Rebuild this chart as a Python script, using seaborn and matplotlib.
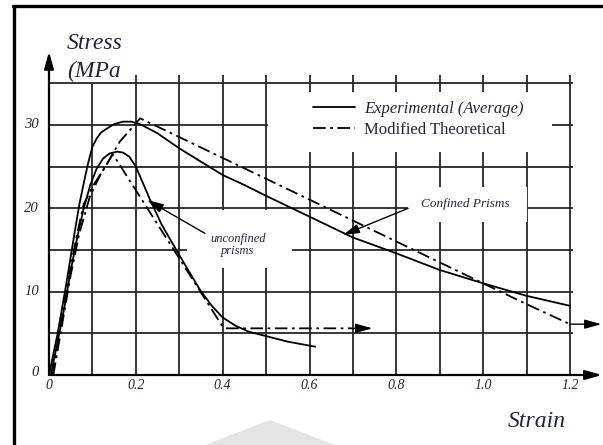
import numpy as np
import pandas as pd
import matplotlib
matplotlib.use('Agg')
import matplotlib.pyplot as plt
from matplotlib.lines import Line2D
from matplotlib.patches import Rectangle, Polygon
import seaborn as sns

# experimental (average) - confined prisms
conf_exp_strain = [0, 0.01, 0.02, 0.03, 0.04, 0.05, 0.06, 0.07, 0.08, 0.09, 0.10, 0.11, 0.12,
                   0.134, 0.15, 0.17, 0.19, 0.21, 0.25, 0.30, 0.35, 0.40, 0.45, 0.50, 0.60,
                   0.70, 0.80, 0.90, 1.00, 1.10, 1.20]
conf_exp_stress = [0, 2.5, 5, 8, 11, 14.2, 17.4, 20.5, 23.0, 25.4, 27.4, 28.4, 29.1,
                   29.6, 30.1, 30.4, 30.4, 30.1, 29.0, 27.2, 25.6, 24.0, 22.8, 21.5, 19.0,
                   16.5, 14.6, 12.6, 11.0, 9.5, 8.3]

# experimental (average) - unconfined prisms
unconf_exp_strain = [0.004, 0.02, 0.035, 0.05, 0.065, 0.08, 0.095, 0.11, 0.125, 0.14, 0.157,
                     0.17, 0.185, 0.20, 0.215, 0.233, 0.26, 0.30, 0.325, 0.348, 0.375, 0.40,
                     0.43, 0.46, 0.49, 0.55, 0.613]
unconf_exp_stress = [0, 4, 8, 12.5, 16.5, 20, 22.8, 24.8, 26.0, 26.6, 26.8,
                     26.7, 26.2, 25.0, 23.2, 21.0, 18.0, 14.4, 12.2, 10.2, 8.3, 6.9,
                     5.9, 5.2, 4.8, 4.0, 3.4]

# modified theoretical - confined prisms
conf_theo_strain = [0.008, 0.03, 0.05, 0.065, 0.08, 0.10, 0.13, 0.163, 0.21, 0.51, 1.00, 1.10, 1.20]
conf_theo_stress = [0, 7, 13, 17, 20.5, 22.6, 25.0, 28.0, 30.8, 23.3, 11.0, 8.5, 6.1]

# modified theoretical - unconfined prisms
unconf_theo_strain = [0.01, 0.03, 0.05, 0.07, 0.094, 0.12, 0.147, 0.30, 0.40, 0.41, 0.70]
unconf_theo_stress = [0, 6, 12, 17, 21.4, 24.2, 26.5, 14.0, 5.8, 5.6, 5.6]

# where the arrows on the theoretical tails end
theo_arrow_tip = {'unconf': 0.745, 'conf': 1.272}

x_ticks = [0, 0.2, 0.4, 0.6, 0.8, 1.0, 1.2]
x_tick_labels = ['0', '0.2', '0.4', '0.6', '0.8', '1.0', '1.2']
y_ticks = [0, 10, 20, 30]
y_tick_labels = ['0', '10', '20', '30']
strain_grid = [0.1, 0.2, 0.3, 0.4, 0.5, 0.6, 0.7, 0.8, 0.9, 1.0, 1.1, 1.2]
stress_grid = [5, 10, 15, 20, 25, 30, 35]

rows = []
for curve, kind, xs, ys in [
        ('conf_exp', 'Experimental (Average)', conf_exp_strain, conf_exp_stress),
        ('unconf_exp', 'Experimental (Average)', unconf_exp_strain, unconf_exp_stress),
        ('conf_theo', 'Modified Theoretical', conf_theo_strain, conf_theo_stress),
        ('unconf_theo', 'Modified Theoretical', unconf_theo_strain, unconf_theo_stress)]:
    for x, y in zip(xs, ys):
        rows.append({'strain': x, 'stress': y, 'curve': curve, 'kind': kind})
df = pd.DataFrame(rows)

sns.set_style('white')
plt.rcParams['font.family'] = ['Liberation Serif', 'DejaVu Serif']

W, H = 603, 445
fig = plt.figure(figsize=(W / 100, H / 100), dpi=100)
ax = fig.add_axes([0, 0, 1, 1])
# strain 0 -> px 49, 1.2 -> px 570 ; stress 0 -> px 375, 30 -> px 125
px_x = (570 - 49) / 1.2
px_y = (375 - 125) / 30
ax.set_xlim(-49 / px_x, (W - 49) / px_x)
ax.set_ylim(-(H - 375) / px_y, 375 / px_y)
ax.axis('off')

ink = '#222244'
dashdot = (7, 2.5, 1.5, 2.5)

# grid
for s in stress_grid:
    ax.hlines(s, 0, 1.207, color='#262626', lw=1.3, zorder=1)
for e in strain_grid:
    ax.vlines(e, 0, 35 if e == 0.1 else 36, color='#262626', lw=1.3, zorder=1)

# white areas behind legend and notes
for (x0, x1, y0, y1) in [(0.504, 1.158, 26.8, 34.0), (0.318, 0.560, 12.8, 19.8),
                         (0.827, 1.101, 18.4, 22.6)]:
    ax.add_patch(Rectangle((x0, y0), x1 - x0, y1 - y0, facecolor='white',
                           edgecolor='none', zorder=2))

sns.lineplot(data=df, x='strain', y='stress', style='kind', units='curve',
             estimator=None, sort=False, color='black', lw=1.3,
             dashes={'Experimental (Average)': '', 'Modified Theoretical': dashdot},
             legend=False, ax=ax, zorder=3)

head = '-|>,head_length=1.0,head_width=0.28'
# arrows at the end of the theoretical curves
ax.annotate('', xy=(theo_arrow_tip['unconf'], unconf_theo_stress[-1]),
            xytext=(unconf_theo_strain[-1], unconf_theo_stress[-1]),
            arrowprops=dict(arrowstyle=head, color='black', lw=1.1, shrinkA=0, shrinkB=0), zorder=4)
ax.annotate('', xy=(theo_arrow_tip['conf'], conf_theo_stress[-1]),
            xytext=(conf_theo_strain[-1], conf_theo_stress[-1]),
            arrowprops=dict(arrowstyle=head, color='black', lw=1.0, shrinkA=0, shrinkB=0), zorder=4)

# axes arrows
ax.annotate('', xy=(0, 38.8), xytext=(0, 0),
            arrowprops=dict(arrowstyle=head, color='black', lw=1.6, shrinkA=0, shrinkB=0), zorder=4)
ax.annotate('', xy=(1.274, 0), xytext=(0, 0),
            arrowprops=dict(arrowstyle=head, color='black', lw=1.6, shrinkA=0, shrinkB=0), zorder=4)

# tick labels
for e, lab in zip(x_ticks, x_tick_labels):
    ax.text(e, -1.25, lab, ha='center', va='center', style='italic', size=10, color=ink)
for s, lab in zip(y_ticks, y_tick_labels):
    ax.text(-0.023, s + (0.25 if s == 0 else 0), lab, ha='right', va='center',
            style='italic', size=10.5, color=ink)

ax.text(0.041, 39.8, 'Stress', ha='left', va='center', style='italic', size=17, color=ink)
ax.text(0.041, 36.4, '(MPa', ha='left', va='center', style='italic', size=17, color=ink)
ax.text(1.124, -5.6, 'Strain', ha='center', va='center', style='italic', size=17, color=ink)

# notes
ax.text(0.435, 15.6, 'unconfined\nprisms', ha='center', va='center', style='italic',
        size=9, color=ink, linespacing=1.1, zorder=5)
ax.annotate('', xy=(0.226, 21.0), xytext=(0.359, 17.0),
            arrowprops=dict(arrowstyle=head, color='black', lw=1.0, shrinkA=0, shrinkB=0), zorder=5)
ax.text(0.958, 20.5, 'Confined Prisms', ha='center', va='center', style='italic',
        size=9.5, color=ink, zorder=5)
ax.annotate('', xy=(0.677, 16.8), xytext=(0.827, 20.0),
            arrowprops=dict(arrowstyle=head, color='black', lw=1.0, shrinkA=0, shrinkB=0), zorder=5)

# legend
handles = [Line2D([], [], color='black', lw=1.3),
           Line2D([], [], color='black', lw=1.3, dashes=dashdot)]
leg = ax.legend(handles, ['Experimental (Average)', 'Modified Theoretical'],
                loc='center left', bbox_to_anchor=(0.608, 30.7), bbox_transform=ax.transData,
                frameon=False, fontsize=12, handlelength=2.5, handletextpad=0.55,
                labelspacing=0.3, borderpad=0, borderaxespad=0)
leg.set_zorder(6)
for t in leg.get_texts():
    t.set_color(ink)
leg.get_texts()[0].set_style('italic')

# page frame and faint watermark
fig.add_artist(Line2D([13.5 / W, 13.5 / W], [0, 1 - 5.5 / H], color='black', lw=2.4,
                      transform=fig.transFigure))
fig.add_artist(Line2D([12.5 / W, 1], [1 - 5.5 / H, 1 - 5.5 / H], color='black', lw=2.4,
                      transform=fig.transFigure))
fig.add_artist(Polygon([(205 / W, 0), (270 / W, 1 - 420 / H), (335 / W, 0)],
                       closed=True, facecolor='#e4e4e4', edgecolor='none',
                       transform=fig.transFigure, zorder=0))

fig.savefig('out.png', dpi=100)
